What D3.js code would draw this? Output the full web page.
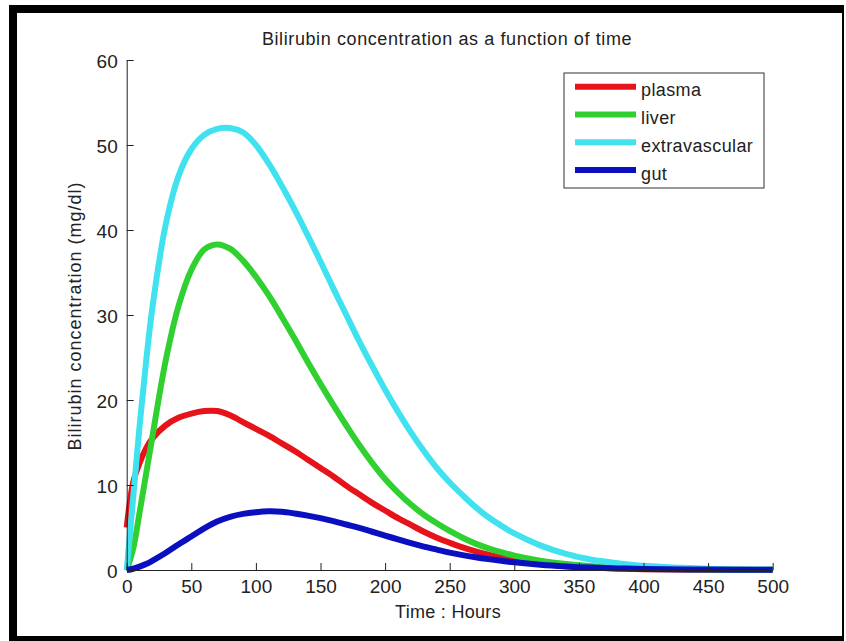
<!DOCTYPE html>
<html>
<head>
<meta charset="utf-8">
<script src="https://cdn.jsdelivr.net/npm/d3@7"></script>
<style>
  body { margin: 0; background: #fff; }
  svg text { font-family: "Liberation Sans", Arial, sans-serif; fill: #222; }
</style>
</head>
<body>
<svg id="chart"></svg>
<script>
// sample times (hours)
const hours = [0, 5, 10, 15, 20, 30, 40, 50, 60, 70, 80, 90, 100, 110, 120, 130, 140, 150,
  160, 170, 180, 190, 200, 210, 220, 230, 240, 250, 260, 270, 280, 290, 300,
  320, 340, 360, 380, 400, 450, 500];

// concentrations (mg/dl)
const plasma = [5.0, 10.3, 12.6, 14.3, 15.5, 17.0, 17.9, 18.4, 18.7, 18.7, 18.2, 17.4, 16.6, 15.8, 14.9, 14.0, 13.0, 12.0,
  11.0, 9.9, 8.9, 7.9, 7.0, 6.1, 5.3, 4.5, 3.8, 3.2, 2.65, 2.2, 1.8, 1.45, 1.15,
  0.72, 0.45, 0.28, 0.17, 0.1, 0.03, 0.01];
const liver = [0, 2.5, 6.8, 11.3, 15.8, 24.5, 31.0, 35.3, 37.7, 38.3, 37.8, 36.4, 34.5, 32.3, 29.8, 27.2, 24.5, 21.9,
  19.4, 17.0, 14.7, 12.6, 10.7, 9.1, 7.7, 6.5, 5.5, 4.6, 3.8, 3.1, 2.55, 2.1, 1.7,
  1.1, 0.7, 0.45, 0.28, 0.17, 0.05, 0.015];
const extravascular = [0, 8.5, 17.0, 24.5, 31.0, 40.5, 46.3, 49.5, 51.2, 51.9, 52.0, 51.5, 50.0, 47.8, 45.2, 42.4, 39.4, 36.3,
  33.1, 30.0, 26.9, 24.0, 21.2, 18.6, 16.2, 14.0, 12.0, 10.3, 8.8, 7.4, 6.2, 5.2, 4.3,
  2.9, 1.9, 1.2, 0.8, 0.5, 0.15, 0.05];
const gut = [0, 0.15, 0.4, 0.7, 1.1, 2.0, 3.0, 3.95, 4.9, 5.7, 6.25, 6.6, 6.8, 6.9, 6.85, 6.65, 6.4, 6.1,
  5.75, 5.35, 4.95, 4.5, 4.05, 3.6, 3.15, 2.75, 2.4, 2.05, 1.75, 1.5, 1.28, 1.08, 0.9,
  0.62, 0.42, 0.28, 0.19, 0.13, 0.05, 0.02];

const seriesNames = ["plasma", "liver", "extravascular", "gut"];
const seriesColors = ["#e6141a", "#30d030", "#40e2f0", "#0a10c0"];
const xTicks = [0, 50, 100, 150, 200, 250, 300, 350, 400, 450, 500];
const yTicks = [0, 10, 20, 30, 40, 50, 60];

const W = 846, H = 641;
const svg = d3.select("#chart").attr("width", W).attr("height", H);

// black frame around the figure
svg.append("rect").attr("x", 0).attr("y", 0).attr("width", W).attr("height", H).attr("fill", "#fff");
svg.append("rect").attr("x", 9).attr("y", 5).attr("width", 835).attr("height", 636).attr("fill", "#000");
svg.append("rect").attr("x", 17).attr("y", 13).attr("width", 825).attr("height", 623).attr("fill", "#fff");

const x = d3.scaleLinear().domain([0, 500]).range([126.7, 772.7]);
const y = d3.scaleLinear().domain([0, 60]).range([570, 60]);

// curves
const line = d3.line()
  .x((d, i) => x(hours[i]))
  .y(d => y(d))
  .curve(d3.curveCatmullRom.alpha(0.5));

const allSeries = [plasma, liver, extravascular, gut];
svg.append("g").selectAll("path")
  .data(allSeries)
  .join("path")
  .attr("d", d => line(d))
  .attr("fill", "none")
  .attr("stroke", (d, i) => seriesColors[i])
  .attr("stroke-width", 6)
  .attr("stroke-linejoin", "round");

// axes (ticks point inward, matlab style)
const xAxis = svg.append("g")
  .attr("transform", `translate(0,${y(0)})`)
  .call(d3.axisBottom(x).tickValues(xTicks).tickSizeInner(-7).tickSizeOuter(0).tickPadding(10));
const yAxis = svg.append("g")
  .attr("transform", `translate(${x(0)},0)`)
  .call(d3.axisLeft(y).tickValues(yTicks).tickSizeInner(-7).tickSizeOuter(0).tickPadding(9));

[xAxis, yAxis].forEach(a => {
  a.select(".domain").attr("stroke", "#222");
  a.selectAll(".tick line").attr("stroke", "#222");
  a.selectAll("text")
    .attr("font-family", "'Liberation Sans', Arial, sans-serif")
    .attr("font-size", 19)
    .attr("fill", "#222");
});
yAxis.selectAll("text").attr("dy", "0.42em");

// title and axis labels
svg.append("text")
  .attr("x", 447).attr("y", 45)
  .attr("text-anchor", "middle")
  .attr("font-size", 18)
  .attr("letter-spacing", "0.6px")
  .text("Bilirubin concentration as a function of time");

svg.append("text")
  .attr("x", 448).attr("y", 618)
  .attr("text-anchor", "middle")
  .attr("font-size", 18)
  .attr("letter-spacing", "0.3px")
  .text("Time : Hours");

svg.append("text")
  .attr("transform", "translate(81,316) rotate(-90)")
  .attr("text-anchor", "middle")
  .attr("font-size", 18)
  .attr("letter-spacing", "1px")
  .text("Bilirubin concentration (mg/dl)");

// legend
const legend = svg.append("g");
legend.append("rect")
  .attr("x", 564).attr("y", 73).attr("width", 200).attr("height", 115)
  .attr("fill", "#fff").attr("stroke", "#333").attr("stroke-width", 1);

const rowY = d3.scalePoint().domain(seriesNames).range([86.7, 170]);
const rows = legend.selectAll("g.row")
  .data(seriesNames)
  .join("g")
  .attr("class", "row");
rows.append("line")
  .attr("x1", 575).attr("x2", 636)
  .attr("y1", d => rowY(d)).attr("y2", d => rowY(d))
  .attr("stroke", (d, i) => seriesColors[i])
  .attr("stroke-width", 6);
rows.append("text")
  .attr("x", 641)
  .attr("y", d => rowY(d) + 9.5)
  .attr("font-size", 18)
  .attr("letter-spacing", "0.4px")
  .text(d => d);
</script>
</body>
</html>
